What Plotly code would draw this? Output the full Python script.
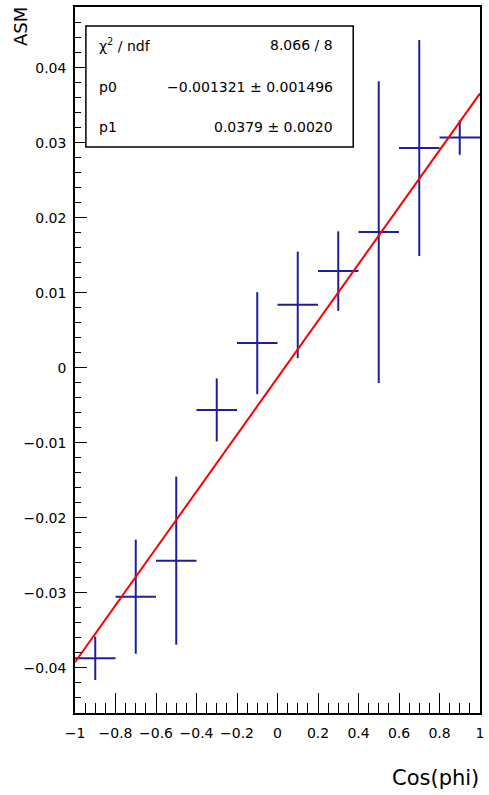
import numpy as np
import plotly.graph_objects as go

# Binned asymmetry measurement vs cos(phi)
cos_phi = [-0.9, -0.7, -0.5, -0.3, -0.1, 0.1, 0.3, 0.5, 0.7, 0.9]
half_bin = [0.1] * 10
asm = [-0.0387, -0.0305, -0.0257, -0.0056, 0.0033, 0.0084, 0.0129, 0.0181, 0.0293, 0.0307]
asm_err = [0.0029, 0.0076, 0.0112, 0.0042, 0.0068, 0.0071, 0.0053, 0.0201, 0.0144, 0.0023]

# Linear fit result (pol1)
p0, p0_err = -0.001321, 0.001496
p1, p1_err = 0.0379, 0.0020
chi2, ndf = 8.066, 8

FONT = "DejaVu Sans"
BLUE = "#1f1f9e"

fig = go.Figure()

fig.add_trace(go.Scatter(
    x=cos_phi, y=asm, mode="markers",
    marker=dict(size=1, color=BLUE),
    error_x=dict(type="data", array=half_bin, width=0, thickness=2, color=BLUE),
    error_y=dict(type="data", array=asm_err, width=0, thickness=2, color=BLUE),
    showlegend=False, hoverinfo="skip",
))

xf = np.linspace(-1, 1, 50)
fig.add_trace(go.Scatter(
    x=xf, y=p0 + p1 * xf, mode="lines",
    line=dict(color="red", width=2),
    showlegend=False, hoverinfo="skip",
))

axis_common = dict(
    showgrid=False, zeroline=False,
    showline=True, linecolor="black", linewidth=1.5, mirror=True,
    ticks="inside", tickcolor="black", tickwidth=1,
    tickfont=dict(family=FONT, size=14, color="black"),
)

fig.update_xaxes(
    range=[-1, 1], dtick=0.2, tick0=-1, ticklen=20,
    minor=dict(ticks="inside", dtick=0.05, ticklen=10, tickcolor="black", tickwidth=1),
    ticklabelstandoff=6,
    **axis_common,
)
fig.update_yaxes(
    range=[-0.046, 0.0481], dtick=0.01, tick0=0, ticklen=12,
    minor=dict(ticks="inside", dtick=0.002, ticklen=6, tickcolor="black", tickwidth=1),
    ticklabelstandoff=4,
    **axis_common,
)

# Fit statistics box
fig.add_shape(type="rect", xref="paper", yref="paper",
              x0=0.0269, x1=0.687, y0=0.8017, y1=0.9731,
              line=dict(color="black", width=1.5), fillcolor="white", layer="above")

rows = [
    ("χ<sup>2</sup> / ndf", f"{chi2:.3f} / {ndf}", 0.9462),
    ("p0", f"{p0:.6f} ± {p0_err:.6f}".replace("-", "\u2212"), 0.8867),
    ("p1", f"{p1:.4f} ± {p1_err:.4f}", 0.830),
]
for left, right, yy in rows:
    fig.add_annotation(xref="paper", yref="paper", x=0.0538, y=yy, text=left,
                       showarrow=False, xanchor="left", yanchor="middle",
                       font=dict(family=FONT, size=14, color="black"))
    fig.add_annotation(xref="paper", yref="paper", x=0.643, y=yy, text=right,
                       showarrow=False, xanchor="right", yanchor="middle",
                       font=dict(family=FONT, size=14, color="black"))

# Axis titles
fig.add_annotation(xref="paper", yref="paper", x=-0.134, y=1.003, text="ASM",
                   textangle=-90, showarrow=False, xanchor="center", yanchor="top",
                   font=dict(family=FONT, size=18, color="black"))
fig.add_annotation(xref="paper", yref="paper", x=1.002, y=-0.092, text="Cos(phi)",
                   showarrow=False, xanchor="right", yanchor="middle",
                   font=dict(family=FONT, size=21, color="black"))

fig.update_layout(
    width=489, height=795,
    margin=dict(l=75, r=5, t=7, b=82),
    plot_bgcolor="white", paper_bgcolor="white",
)

fig.write_html("out.html")
